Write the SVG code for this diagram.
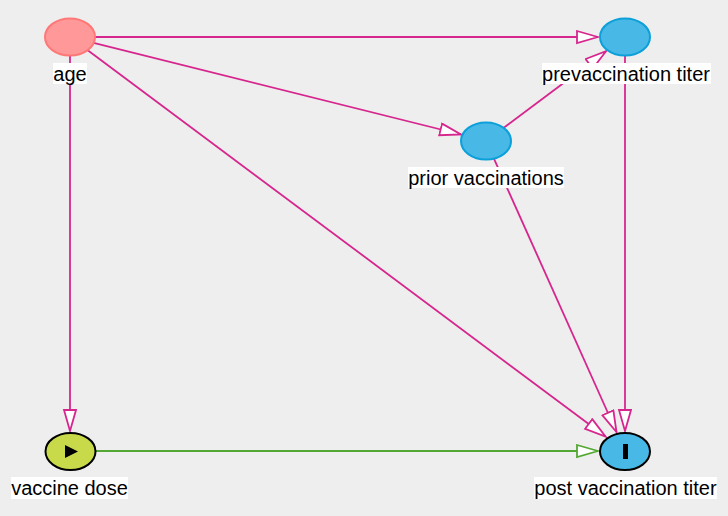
<svg xmlns="http://www.w3.org/2000/svg" width="728" height="516" viewBox="0 0 728 516">
<style>
.bg{fill:#eeeeee}
.e{fill:none;stroke-width:1.8}
.m{stroke:#d6268e}
.g{stroke:#52a832}
.lbl{fill:#ffffff}
text{font-family:"Liberation Sans",Arial,sans-serif;font-size:20px;fill:#000;text-anchor:middle}
.conf{fill:#ff9999;stroke:#ff7777;stroke-width:2}
.anc{fill:#48b9e6;stroke:#0ca0da;stroke-width:2}
.exp{fill:#c8d94a;stroke:#000;stroke-width:2}
.out{fill:#48b9e6;stroke:#000;stroke-width:2}
</style>
<defs>
<marker id="am" markerUnits="userSpaceOnUse" markerWidth="24" markerHeight="16" refX="22" refY="7" orient="auto">
<path d="M1,1 L22,7 L1,13 Z" fill="#ffffff" stroke="#d6268e" stroke-width="1.8"/>
</marker>
<marker id="ag" markerUnits="userSpaceOnUse" markerWidth="24" markerHeight="16" refX="22" refY="7" orient="auto">
<path d="M1,1 L22,7 L1,13 Z" fill="#ffffff" stroke="#52a832" stroke-width="1.8"/>
</marker>
</defs>
<rect class="bg" x="0" y="0" width="728" height="516"/>
<g id="connectors">
<line class="e m" x1="95" y1="37" x2="598" y2="37" marker-end="url(#am)"/>
<line class="e m" x1="70" y1="55" x2="70" y2="431" marker-end="url(#am)"/>
<line class="e m" x1="93.6" y1="42.9" x2="461" y2="134.5" marker-end="url(#am)"/>
<line class="e m" x1="87.4" y1="50" x2="605.5" y2="436.5" marker-end="url(#am)"/>
<line class="e m" x1="503.4" y1="128" x2="606" y2="51.2" marker-end="url(#am)"/>
<line class="e m" x1="493.7" y1="158.1" x2="616.5" y2="432" marker-end="url(#am)"/>
<line class="e m" x1="625" y1="55" x2="625" y2="431" marker-end="url(#am)"/>
<line class="e g" x1="96" y1="451" x2="598" y2="451" marker-end="url(#ag)"/>
</g>
<g id="age">
<ellipse class="conf" cx="70" cy="37" rx="25" ry="18.5"/>
<rect class="lbl" x="53" y="63" width="34" height="21"/>
<text x="70" y="81">age</text>
</g>
<g id="prevaccination_titer">
<ellipse class="anc" cx="625" cy="37" rx="25" ry="18.5"/>
<rect class="lbl" x="542" y="63" width="169" height="21"/>
<text x="626" y="81">prevaccination titer</text>
</g>
<g id="prior_vaccinations">
<ellipse class="anc" cx="486" cy="141" rx="25" ry="18.5"/>
<rect class="lbl" x="408" y="167" width="156" height="21"/>
<text x="486" y="185">prior vaccinations</text>
</g>
<g id="vaccine_dose">
<ellipse class="exp" cx="70.5" cy="451.5" rx="25" ry="18.5"/>
<path d="M65,445 L65,458 L78,451.5 Z" fill="#000"/>
<rect class="lbl" x="11" y="477" width="117" height="22"/>
<text x="69.5" y="495">vaccine dose</text>
</g>
<g id="post_vaccination_titer">
<ellipse class="out" cx="625" cy="451.5" rx="25" ry="18.5"/>
<rect x="623" y="444" width="5" height="15" fill="#000"/>
<rect class="lbl" x="534" y="477" width="183" height="22"/>
<text x="625.5" y="495">post vaccination titer</text>
</g>
</svg>
